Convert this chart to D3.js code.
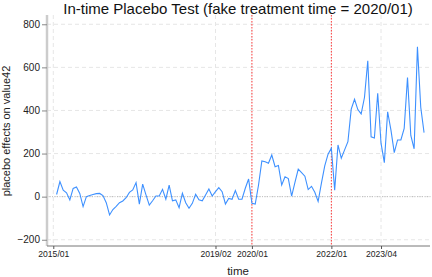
<!DOCTYPE html>
<html><head><meta charset="utf-8">
<script src="https://cdn.jsdelivr.net/npm/d3@7"></script>
<style>body{margin:0;background:#fff}svg{display:block}text{font-family:"Liberation Sans",Arial,Helvetica,sans-serif}</style>
</head><body>
<svg id="c" width="432" height="277"></svg>
<script>
// months since 2015/01 of first observation
const startMonth = 1;
const effects = [10,70,30,18,-15,38,45,15,-46,0,5,10,14,15,5,-28,-85,-60,-45,-28,-20,-5,20,31,65,-35,58,8,-39,-19,3,3,34,-12,54,-19,-15,-51,16,-28,-54,-31,11,-15,-19,8,36,3,23,42,23,-34,-8,-12,28,-12,-12,39,82,-31,-34,54,166,162,155,193,139,145,54,92,84,2,66,128,112,95,33,48,20,-22,63,143,197,225,30,240,178,217,255,406,452,404,384,460,631,278,272,480,248,158,394,309,204,263,263,317,553,284,222,696,415,297];
const xTickMonths = [0,49,60,84,99];
const xTickLabels = ["2015/01","2019/02","2020/01","2022/01","2023/04"];
const yTicks = [-200,0,200,400,600,800];
const eventMonths = [60,84];
const title = "In-time Placebo Test (fake treatment time = 2020/01)";
const xLabel = "time", yLabel = "placebo effects on value42";

const svg = d3.select("#c");
const L=47,R=432,T=15,B=246;
const x = d3.scaleLinear().domain([-1.9,114.4]).range([L,R]);
const y = d3.scaleLinear().domain([-229,843]).range([B,T]);

// grid
const g = svg.append("g");
g.selectAll(".hg").data(yTicks).join("line")
  .attr("x1",L).attr("x2",R).attr("y1",d=>y(d)).attr("y2",d=>y(d))
  .attr("stroke","#e6e6e6").attr("stroke-dasharray","4,3").attr("stroke-width",1);
g.selectAll(".vg").data(xTickMonths).join("line")
  .attr("x1",d=>x(d)).attr("x2",d=>x(d)).attr("y1",T).attr("y2",B)
  .attr("stroke","#e6e6e6").attr("stroke-dasharray","4,3").attr("stroke-width",1);

// zero line
svg.append("line").attr("x1",L).attr("x2",R).attr("y1",y(0)).attr("y2",y(0))
  .attr("stroke","#bbbbbb").attr("stroke-dasharray","1,1.5").attr("stroke-width",1);

// event lines
svg.selectAll(".ev").data(eventMonths).join("line")
  .attr("x1",d=>x(d)).attr("x2",d=>x(d)).attr("y1",T).attr("y2",B)
  .attr("stroke","#ff3b3b").attr("stroke-dasharray","1.5,1.5").attr("stroke-width",1);

// series
const line = d3.line().x((d,i)=>x(startMonth+i)).y(d=>y(d));
svg.append("path").datum(effects).attr("d",line)
  .attr("fill","none").attr("stroke","#3d90ff").attr("stroke-width",1.1);

// axes
const yAxis = d3.axisLeft(y).tickValues(yTicks).tickSize(5).tickPadding(2);
const ya = svg.append("g").attr("transform",`translate(${L},0)`).call(yAxis);
ya.select(".domain").attr("stroke","#cccccc").attr("stroke-width",2.5).attr("d",`M0,${T}V${B}`);
ya.selectAll(".tick line").attr("stroke","#888");
ya.selectAll("text").attr("font-size",10).attr("fill","#222").style("font-family","Liberation Sans, Arial, sans-serif");

const xAxis = d3.axisBottom(x).tickValues(xTickMonths).tickFormat((d,i)=>xTickLabels[i]).tickSize(3).tickPadding(2);
const xa = svg.append("g").attr("transform",`translate(0,${B})`).call(xAxis);
xa.select(".domain").attr("stroke","#777").attr("d",`M${L},0H${R-2}`);
xa.selectAll(".tick line").attr("stroke","#555");
xa.selectAll("text").attr("font-size",8.6).attr("fill","#222").style("font-family","Liberation Sans, Arial, sans-serif");

// labels
svg.append("text").attr("x",238).attr("y",14).attr("text-anchor","middle")
  .attr("font-size",15).attr("fill","#111").text(title);
svg.append("text").attr("x",238).attr("y",275).attr("text-anchor","middle")
  .attr("font-size",11.5).attr("fill","#222").text(xLabel);
svg.append("text").attr("transform","translate(10,131) rotate(-90)").attr("text-anchor","middle")
  .attr("font-size",11).attr("fill","#222").text(yLabel);
</script>
</body></html>
